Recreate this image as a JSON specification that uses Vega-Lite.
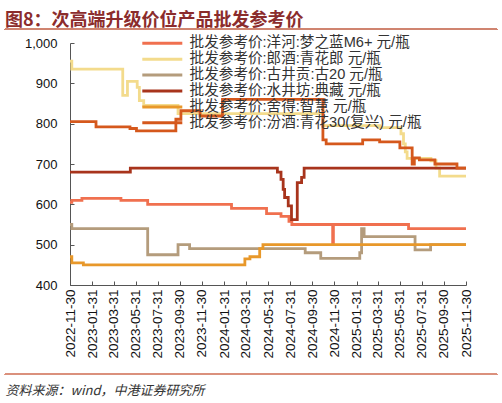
{
  "$schema": "https://vega.github.io/schema/vega-lite/v6.json",
  "width": 396,
  "height": 242,
  "autosize": "none",
  "padding": {"left": 70, "top": 43, "right": 36, "bottom": 118},
  "title": {
    "text": "图8：次高端升级价位产品批发参考价",
    "anchor": "start",
    "frame": "group",
    "dx": -65,
    "dy": 13,
    "offset": 12,
    "font": "Noto Sans CJK SC",
    "fontSize": 18,
    "fontWeight": "bold",
    "color": "#8B2C2C"
  },
  "data": {
    "values": [
      {"s": "批发参考价:洋河:梦之蓝M6+ 元/瓶", "d": "2022-11-30", "v": 605},
      {"s": "批发参考价:洋河:梦之蓝M6+ 元/瓶", "d": "2022-12-05", "v": 610},
      {"s": "批发参考价:洋河:梦之蓝M6+ 元/瓶", "d": "2023-01-02", "v": 615},
      {"s": "批发参考价:洋河:梦之蓝M6+ 元/瓶", "d": "2023-04-20", "v": 610},
      {"s": "批发参考价:洋河:梦之蓝M6+ 元/瓶", "d": "2023-07-03", "v": 600},
      {"s": "批发参考价:洋河:梦之蓝M6+ 元/瓶", "d": "2024-02-20", "v": 590},
      {"s": "批发参考价:洋河:梦之蓝M6+ 元/瓶", "d": "2024-05-27", "v": 577},
      {"s": "批发参考价:洋河:梦之蓝M6+ 元/瓶", "d": "2024-07-06", "v": 570},
      {"s": "批发参考价:洋河:梦之蓝M6+ 元/瓶", "d": "2024-07-28", "v": 558},
      {"s": "批发参考价:洋河:梦之蓝M6+ 元/瓶", "d": "2024-08-05", "v": 550},
      {"s": "批发参考价:洋河:梦之蓝M6+ 元/瓶", "d": "2024-11-26", "v": 500},
      {"s": "批发参考价:洋河:梦之蓝M6+ 元/瓶", "d": "2024-11-28", "v": 550},
      {"s": "批发参考价:洋河:梦之蓝M6+ 元/瓶", "d": "2025-06-24", "v": 540},
      {"s": "批发参考价:洋河:梦之蓝M6+ 元/瓶", "d": "2025-11-30", "v": 540},

      {"s": "批发参考价:郎酒:青花郎 元/瓶", "d": "2022-11-30", "v": 955},
      {"s": "批发参考价:郎酒:青花郎 元/瓶", "d": "2022-12-05", "v": 935},
      {"s": "批发参考价:郎酒:青花郎 元/瓶", "d": "2023-04-25", "v": 870},
      {"s": "批发参考价:郎酒:青花郎 元/瓶", "d": "2023-05-08", "v": 905},
      {"s": "批发参考价:郎酒:青花郎 元/瓶", "d": "2023-06-04", "v": 890},
      {"s": "批发参考价:郎酒:青花郎 元/瓶", "d": "2023-06-10", "v": 857},
      {"s": "批发参考价:郎酒:青花郎 元/瓶", "d": "2023-06-22", "v": 845},
      {"s": "批发参考价:郎酒:青花郎 元/瓶", "d": "2023-09-25", "v": 825},
      {"s": "批发参考价:郎酒:青花郎 元/瓶", "d": "2024-10-30", "v": 795},
      {"s": "批发参考价:郎酒:青花郎 元/瓶", "d": "2025-04-05", "v": 790},
      {"s": "批发参考价:郎酒:青花郎 元/瓶", "d": "2025-06-03", "v": 775},
      {"s": "批发参考价:郎酒:青花郎 元/瓶", "d": "2025-06-10", "v": 750},
      {"s": "批发参考价:郎酒:青花郎 元/瓶", "d": "2025-06-15", "v": 730},
      {"s": "批发参考价:郎酒:青花郎 元/瓶", "d": "2025-06-20", "v": 714},
      {"s": "批发参考价:郎酒:青花郎 元/瓶", "d": "2025-08-25", "v": 708},
      {"s": "批发参考价:郎酒:青花郎 元/瓶", "d": "2025-09-08", "v": 690},
      {"s": "批发参考价:郎酒:青花郎 元/瓶", "d": "2025-09-18", "v": 670},
      {"s": "批发参考价:郎酒:青花郎 元/瓶", "d": "2025-11-30", "v": 670},

      {"s": "批发参考价:古井贡:古20 元/瓶", "d": "2022-11-30", "v": 550},
      {"s": "批发参考价:古井贡:古20 元/瓶", "d": "2022-12-05", "v": 540},
      {"s": "批发参考价:古井贡:古20 元/瓶", "d": "2023-07-03", "v": 475},
      {"s": "批发参考价:古井贡:古20 元/瓶", "d": "2023-09-25", "v": 500},
      {"s": "批发参考价:古井贡:古20 元/瓶", "d": "2023-10-27", "v": 490},
      {"s": "批发参考价:古井贡:古20 元/瓶", "d": "2024-09-11", "v": 480},
      {"s": "批发参考价:古井贡:古20 元/瓶", "d": "2024-10-24", "v": 466},
      {"s": "批发参考价:古井贡:古20 元/瓶", "d": "2025-02-09", "v": 480},
      {"s": "批发参考价:古井贡:古20 元/瓶", "d": "2025-02-14", "v": 540},
      {"s": "批发参考价:古井贡:古20 元/瓶", "d": "2025-02-21", "v": 520},
      {"s": "批发参考价:古井贡:古20 元/瓶", "d": "2025-07-12", "v": 487},
      {"s": "批发参考价:古井贡:古20 元/瓶", "d": "2025-08-24", "v": 500},
      {"s": "批发参考价:古井贡:古20 元/瓶", "d": "2025-11-30", "v": 500},

      {"s": "批发参考价:水井坊:典藏 元/瓶", "d": "2022-11-30", "v": 680},
      {"s": "批发参考价:水井坊:典藏 元/瓶", "d": "2023-05-16", "v": 690},
      {"s": "批发参考价:水井坊:典藏 元/瓶", "d": "2024-06-26", "v": 680},
      {"s": "批发参考价:水井坊:典藏 元/瓶", "d": "2024-07-06", "v": 662},
      {"s": "批发参考价:水井坊:典藏 元/瓶", "d": "2024-07-12", "v": 637},
      {"s": "批发参考价:水井坊:典藏 元/瓶", "d": "2024-07-16", "v": 617},
      {"s": "批发参考价:水井坊:典藏 元/瓶", "d": "2024-07-26", "v": 596},
      {"s": "批发参考价:水井坊:典藏 元/瓶", "d": "2024-08-04", "v": 562},
      {"s": "批发参考价:水井坊:典藏 元/瓶", "d": "2024-08-20", "v": 654},
      {"s": "批发参考价:水井坊:典藏 元/瓶", "d": "2024-09-01", "v": 667},
      {"s": "批发参考价:水井坊:典藏 元/瓶", "d": "2024-09-08", "v": 690},
      {"s": "批发参考价:水井坊:典藏 元/瓶", "d": "2025-11-30", "v": 690},

      {"s": "批发参考价:舍得:智慧 元/瓶", "d": "2022-11-30", "v": 470},
      {"s": "批发参考价:舍得:智慧 元/瓶", "d": "2022-12-05", "v": 455},
      {"s": "批发参考价:舍得:智慧 元/瓶", "d": "2023-01-06", "v": 450},
      {"s": "批发参考价:舍得:智慧 元/瓶", "d": "2024-03-28", "v": 465},
      {"s": "批发参考价:舍得:智慧 元/瓶", "d": "2024-04-11", "v": 470},
      {"s": "批发参考价:舍得:智慧 元/瓶", "d": "2024-05-08", "v": 490},
      {"s": "批发参考价:舍得:智慧 元/瓶", "d": "2024-05-17", "v": 500},
      {"s": "批发参考价:舍得:智慧 元/瓶", "d": "2025-11-30", "v": 500},

      {"s": "批发参考价:汾酒:青花30(复兴) 元/瓶", "d": "2022-11-30", "v": 805},
      {"s": "批发参考价:汾酒:青花30(复兴) 元/瓶", "d": "2023-02-10", "v": 792},
      {"s": "批发参考价:汾酒:青花30(复兴) 元/瓶", "d": "2023-05-15", "v": 788},
      {"s": "批发参考价:汾酒:青花30(复兴) 元/瓶", "d": "2023-06-02", "v": 782},
      {"s": "批发参考价:汾酒:青花30(复兴) 元/瓶", "d": "2023-09-19", "v": 811},
      {"s": "批发参考价:汾酒:青花30(复兴) 元/瓶", "d": "2023-10-03", "v": 832},
      {"s": "批发参考价:汾酒:青花30(复兴) 元/瓶", "d": "2023-11-25", "v": 819},
      {"s": "批发参考价:汾酒:青花30(复兴) 元/瓶", "d": "2024-01-26", "v": 860},
      {"s": "批发参考价:汾酒:青花30(复兴) 元/瓶", "d": "2024-10-30", "v": 760},
      {"s": "批发参考价:汾酒:青花30(复兴) 元/瓶", "d": "2024-11-08", "v": 750},
      {"s": "批发参考价:汾酒:青花30(复兴) 元/瓶", "d": "2025-02-17", "v": 760},
      {"s": "批发参考价:汾酒:青花30(复兴) 元/瓶", "d": "2025-04-05", "v": 755},
      {"s": "批发参考价:汾酒:青花30(复兴) 元/瓶", "d": "2025-05-31", "v": 740},
      {"s": "批发参考价:汾酒:青花30(复兴) 元/瓶", "d": "2025-07-04", "v": 700},
      {"s": "批发参考价:汾酒:青花30(复兴) 元/瓶", "d": "2025-07-10", "v": 715},
      {"s": "批发参考价:汾酒:青花30(复兴) 元/瓶", "d": "2025-07-24", "v": 710},
      {"s": "批发参考价:汾酒:青花30(复兴) 元/瓶", "d": "2025-09-05", "v": 700},
      {"s": "批发参考价:汾酒:青花30(复兴) 元/瓶", "d": "2025-11-05", "v": 690},
      {"s": "批发参考价:汾酒:青花30(复兴) 元/瓶", "d": "2025-11-30", "v": 690}
    ]
  },
  "layer": [
    {
      "mark": {"type": "line", "interpolate": "step-after", "strokeWidth": 2.8},
      "encoding": {
        "x": {
          "field": "d",
          "type": "temporal",
          "scale": {
            "type": "utc",
            "domain": [
              {"year": 2022, "month": 11, "date": 30, "utc": true},
              {"year": 2025, "month": 11, "date": 30, "utc": true}
            ]
          },
          "axis": {
            "values": [
              {"year": 2022, "month": 11, "date": 30, "utc": true},
              {"year": 2023, "month": 1, "date": 31, "utc": true},
              {"year": 2023, "month": 3, "date": 31, "utc": true},
              {"year": 2023, "month": 5, "date": 31, "utc": true},
              {"year": 2023, "month": 7, "date": 31, "utc": true},
              {"year": 2023, "month": 9, "date": 30, "utc": true},
              {"year": 2023, "month": 11, "date": 30, "utc": true},
              {"year": 2024, "month": 1, "date": 31, "utc": true},
              {"year": 2024, "month": 3, "date": 31, "utc": true},
              {"year": 2024, "month": 5, "date": 31, "utc": true},
              {"year": 2024, "month": 7, "date": 31, "utc": true},
              {"year": 2024, "month": 9, "date": 30, "utc": true},
              {"year": 2024, "month": 11, "date": 30, "utc": true},
              {"year": 2025, "month": 1, "date": 31, "utc": true},
              {"year": 2025, "month": 3, "date": 31, "utc": true},
              {"year": 2025, "month": 5, "date": 31, "utc": true},
              {"year": 2025, "month": 7, "date": 31, "utc": true},
              {"year": 2025, "month": 9, "date": 30, "utc": true},
              {"year": 2025, "month": 11, "date": 30, "utc": true}
            ],
            "tickCount": 30,
            "format": "%Y-%m-%d",
            "labelAngle": -90,
            "labelOverlap": false,
            "labelFlush": false,
            "labelFontSize": 13.5,
            "labelColor": "#111",
            "labelPadding": 8,
            "tickSize": -4,
            "tickColor": "#555",
            "domainColor": "#555",
            "grid": false,
            "title": "资料来源：wind，中港证券研究所",
            "titleFont": "Noto Sans CJK SC",
            "titleFontStyle": "italic",
            "titleFontWeight": "normal",
            "titleFontSize": 13,
            "titleColor": "#333",
            "titleAnchor": "start",
            "titleAlign": "left",
            "titleBaseline": "middle",
            "titleX": -65,
            "titleY": 105
          }
        },
        "y": {
          "field": "v",
          "type": "quantitative",
          "scale": {"domain": [400, 1000], "nice": false, "zero": false},
          "axis": {
            "values": [400, 500, 600, 700, 800, 900, 1000],
            "format": ",.0f",
            "labelFontSize": 13,
            "labelColor": "#111",
            "labelPadding": 17,
            "tickSize": -4,
            "tickColor": "#555",
            "domainColor": "#555",
            "grid": false,
            "title": null
          }
        },
        "color": {
          "field": "s",
          "type": "nominal",
          "scale": {
            "domain": [
              "批发参考价:洋河:梦之蓝M6+ 元/瓶",
              "批发参考价:郎酒:青花郎 元/瓶",
              "批发参考价:古井贡:古20 元/瓶",
              "批发参考价:水井坊:典藏 元/瓶",
              "批发参考价:舍得:智慧 元/瓶",
              "批发参考价:汾酒:青花30(复兴) 元/瓶"
            ],
            "range": ["#F0704F", "#F3DB8C", "#B49C7C", "#A8341C", "#E8982A", "#D5581C"]
          },
          "legend": {
            "orient": "none",
            "legendX": 101,
            "legendY": -7,
            "title": null,
            "padding": 0,
            "symbolType": "M-9,0H1",
            "symbolSize": 64,
            "symbolStrokeWidth": 3,
            "labelFont": "Liberation Sans, Noto Sans CJK SC",
            "labelFontSize": 14.6,
            "labelColor": "#333",
            "labelOffset": 4,
            "labelLimit": 400,
            "rowPadding": 0.9
          }
        }
      }
    },
    {
      "mark": {"type": "rule", "color": "#CF8470", "strokeWidth": 1.3},
      "encoding": {
        "x": {"datum": {"year": 2022, "month": 6, "date": 3, "utc": true}, "type": "temporal"},
        "x2": {"datum": {"year": 2026, "month": 2, "date": 24, "utc": true}},
        "y": {"datum": 1034, "type": "quantitative"}
      }
    },
    {
      "mark": {"type": "rule", "color": "#D9917D", "strokeWidth": 1.3},
      "encoding": {
        "x": {"datum": {"year": 2022, "month": 6, "date": 3, "utc": true}, "type": "temporal"},
        "x2": {"datum": {"year": 2026, "month": 2, "date": 24, "utc": true}},
        "y": {"datum": 178.6, "type": "quantitative"}
      }
    }
  ],
  "config": {
    "view": {"stroke": null},
    "font": "Liberation Sans",
    "axis": {"labelFont": "Liberation Sans"}
  }
}
